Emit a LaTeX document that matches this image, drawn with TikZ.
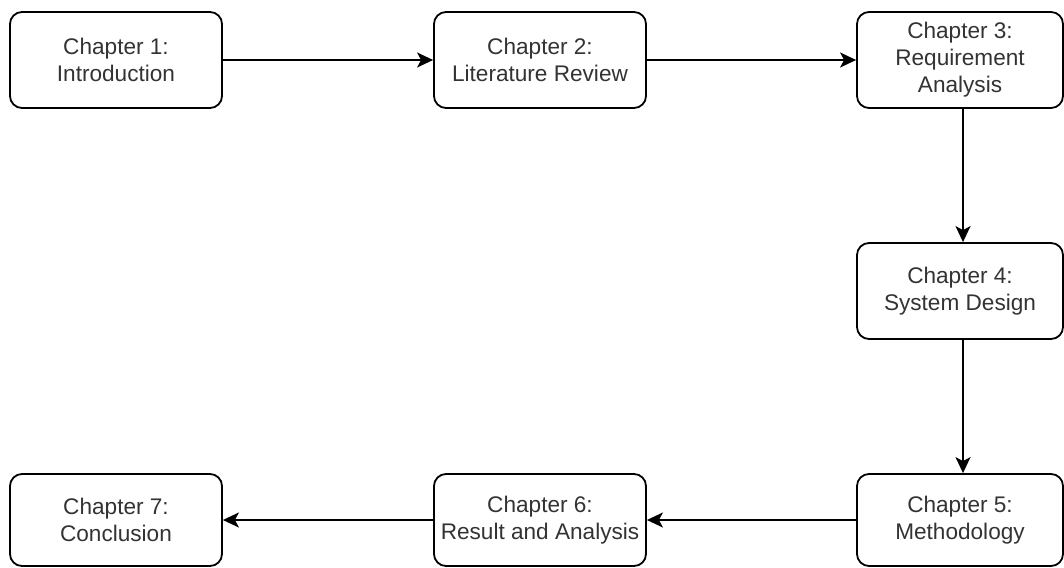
\documentclass[tikz,border=0pt]{standalone}
\usepackage{fontspec}
\setmainfont{Liberation Sans}
\usetikzlibrary{arrows.meta}
\definecolor{txt}{HTML}{333333}
\tikzset{
  chap/.style={draw=black, line width=1.8pt, rounded corners=12pt, fill=white,
    minimum width=212pt, minimum height=96pt, inner sep=0pt, align=center,
    text=txt, font=\fontsize{22.6}{27}\selectfont},
  flow/.style={draw=black, line width=1.8pt, -{Stealth[length=16pt,width=15pt,inset=4pt]}}
}
\begin{document}
\begin{tikzpicture}[x=1pt,y=-1pt]
\useasboundingbox (0,0) rectangle (1064,567);
% top row
\node[chap] (c1) at (116,60) {Chapter 1:\\Introduction};
\node[chap] (c2) at (540,60) {Chapter 2:\\Literature Review};
\node[chap, minimum width=206pt] (c3) at (960,60) {Chapter 3:\\Requirement\\Analysis};
% right column
\node[chap, minimum width=206pt] (c4) at (960,291) {Chapter 4:\\System Design};
% bottom row
\node[chap, minimum width=206pt, minimum height=92pt] (c5) at (960,520) {Chapter 5:\\Methodology};
\node[chap, minimum height=92pt] (c6) at (540,520) {Chapter 6:\\Result and Analysis};
\node[chap, minimum height=92pt] (c7) at (116,520) {Chapter 7:\\Conclusion};
% connectors
\draw[flow] (c1) -- (c2);
\draw[flow] (c2) -- (c3);
\draw[flow] ([xshift=3pt]c3.south) -- ([xshift=3pt]c4.north);
\draw[flow] ([xshift=3pt]c4.south) -- ([xshift=3pt]c5.north);
\draw[flow] (c5) -- (c6);
\draw[flow] (c6) -- (c7);
\end{tikzpicture}
\end{document}
